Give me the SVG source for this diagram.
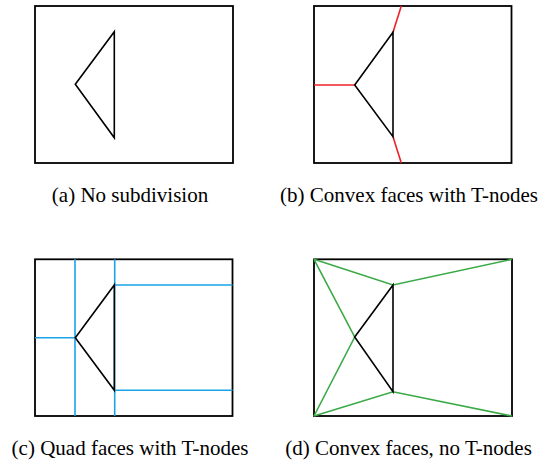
<svg xmlns="http://www.w3.org/2000/svg" width="545" height="463" viewBox="0 0 545 463">
<style>
.frame{fill:none;stroke:#000;stroke-width:1.8}
.tri{fill:none;stroke:#000;stroke-width:1.6;stroke-linejoin:miter}
.red{stroke:#ee2228;stroke-width:1.6;fill:none}
.blue{stroke:#1aa3e6;stroke-width:1.6;fill:none}
.green{stroke:#3aaa46;stroke-width:1.6;fill:none}
.cap{font-family:"Liberation Serif","Times New Roman",serif;font-size:21px;fill:#000;text-anchor:middle}
</style>
<rect width="545" height="463" fill="#fff"/>
<g id="panel-a">
<rect class="frame" x="35" y="6" width="198" height="157"/>
<polygon class="tri" points="75.3,84.3 114.3,31.7 114.3,137.7"/>
<text class="cap" x="130" y="202">(a) No subdivision</text>
</g>
<g id="panel-b">
<rect class="frame" x="314" y="6" width="197.5" height="157"/>
<g class="connectors">
<line class="red" x1="314" y1="85" x2="354.7" y2="85"/>
<line class="red" x1="393" y1="32.3" x2="401.3" y2="6"/>
<line class="red" x1="393" y1="136.7" x2="401.3" y2="163"/>
</g>
<polygon class="tri" points="354.7,85 393,32.3 393,136.7"/>
<text class="cap" x="409" y="202">(b) Convex faces with T-nodes</text>
</g>
<g id="panel-c">
<rect class="frame" x="35" y="259.3" width="197.5" height="156.7"/>
<g class="connectors">
<line class="blue" x1="75" y1="259.3" x2="75" y2="416"/>
<line class="blue" x1="35" y1="337.7" x2="75.3" y2="337.7"/>
<line class="blue" x1="114.7" y1="259.3" x2="114.7" y2="416"/>
<line class="blue" x1="114.3" y1="285" x2="232.5" y2="285"/>
<line class="blue" x1="114.3" y1="390.3" x2="232.5" y2="390.3"/>
</g>
<polygon class="tri" points="75.3,337.7 114.3,285 114.3,390.3"/>
<text class="cap" x="130" y="455">(c) Quad faces with T-nodes</text>
</g>
<g id="panel-d">
<rect class="frame" x="314" y="259.3" width="198" height="156.7"/>
<g class="connectors">
<polyline class="green" points="314,259.3 393,285 512,259.3"/>
<polyline class="green" points="314,259.3 354.7,337 314,416"/>
<polyline class="green" points="314,416 393,391.7 512,416"/>
</g>
<polygon class="tri" points="354.7,337 393,285 393,391.7"/>
<text class="cap" x="408.5" y="455">(d) Convex faces, no T-nodes</text>
</g>
</svg>
